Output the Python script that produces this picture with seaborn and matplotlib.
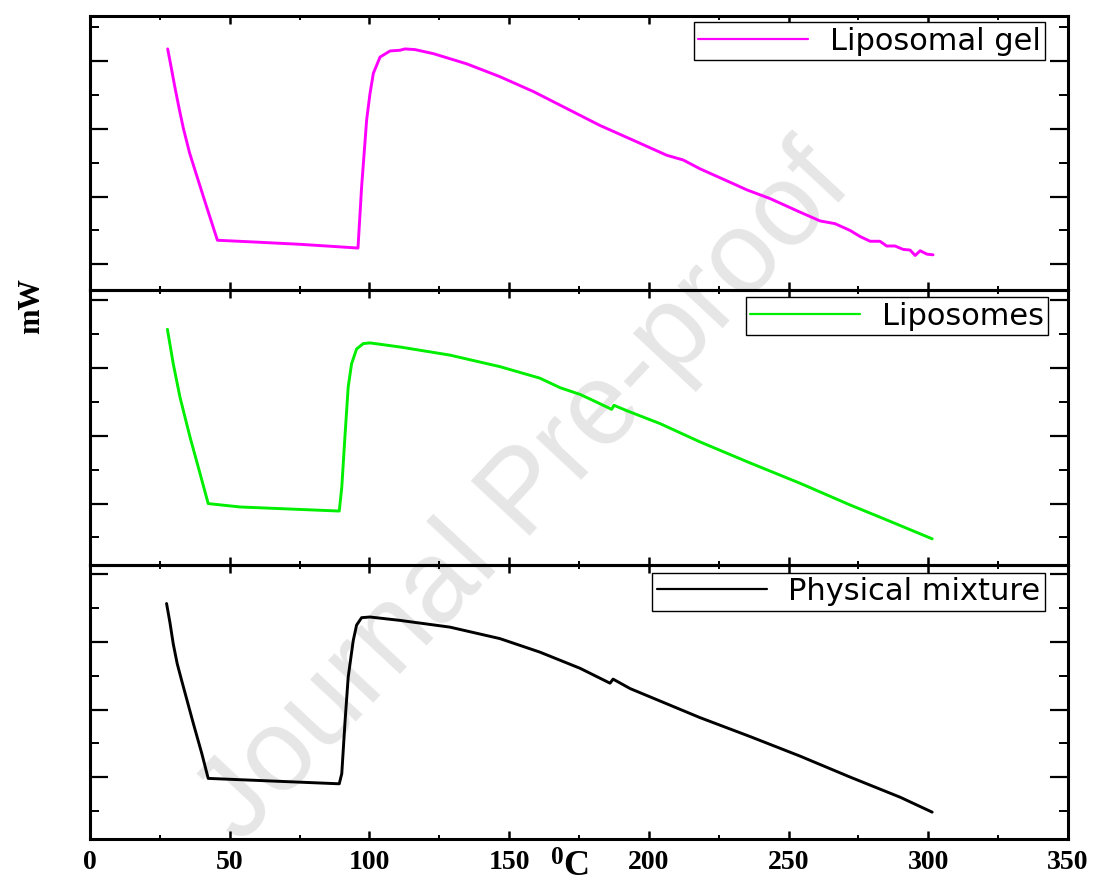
import matplotlib
matplotlib.use("Agg")
import matplotlib.pyplot as plt
from matplotlib.ticker import MultipleLocator
import seaborn as sns
import pandas as pd

# ---------------- data ----------------
temp_gel = [27.8, 29.0, 30.4, 31.9, 33.4, 35.6, 37.8, 41.8, 45.6, 60.8, 75.2, 95.9,
            97.2, 99.0, 100.2, 101.4, 103.8, 107.4, 110.9, 112.7, 116.3, 122.9, 134.8,
            146.7, 158.7, 170.6, 182.5, 194.5, 206.4, 212.3, 218.3, 230.2, 235.0, 243.4,
            254.1, 261.3, 266.6, 272.0, 275.6, 279.2, 282.7, 285.1, 288.1, 291.0, 293.5,
            295.3, 297.1, 299.5, 301.7]
mw_gel = [3.18, 2.92, 2.61, 2.30, 2.01, 1.65, 1.36, 0.84, 0.355, 0.325, 0.295, 0.24,
          1.14, 2.13, 2.52, 2.82, 3.06, 3.15, 3.16, 3.18, 3.17, 3.11, 2.96,
          2.77, 2.55, 2.30, 2.05, 1.83, 1.61, 1.54, 1.41, 1.19, 1.10, 0.97,
          0.77, 0.64, 0.60, 0.50, 0.41, 0.34, 0.34, 0.27, 0.27, 0.22, 0.21,
          0.13, 0.20, 0.15, 0.14]

temp_lip = [27.7, 28.9, 29.8, 32.2, 35.8, 39.4, 42.3, 53.7, 89.2, 90.1, 91.3, 92.4,
            93.6, 95.4, 97.8, 100.2, 110.9, 128.8, 146.7, 161.0, 168.2, 175.4, 180.1,
            186.7, 187.5, 192.1, 204.0, 218.3, 236.2, 254.1, 272.0, 282.7, 301.4]
mw_lip = [2.57, 2.28, 2.06, 1.57, 0.98, 0.44, 0.0, -0.05, -0.11, 0.24, 1.03, 1.72,
          2.06, 2.28, 2.36, 2.37, 2.31, 2.19, 2.02, 1.85, 1.71, 1.61, 1.52,
          1.39, 1.45, 1.37, 1.18, 0.91, 0.60, 0.30, -0.02, -0.20, -0.52]

temp_pm = [27.4, 28.6, 29.8, 31.2, 32.8, 37.0, 40.0, 42.3, 89.2, 90.1, 91.3, 92.4,
           94.2, 95.4, 97.2, 100.2, 110.9, 128.8, 146.7, 161.0, 175.4, 186.1, 187.2,
           193.3, 218.3, 236.2, 254.1, 272.0, 290.0, 301.4]
mw_pm = [2.57, 2.29, 1.97, 1.68, 1.43, 0.79, 0.35, -0.02, -0.10, 0.05, 0.84, 1.48,
         2.02, 2.25, 2.36, 2.37, 2.32, 2.22, 2.05, 1.85, 1.61, 1.39, 1.45,
         1.31, 0.88, 0.60, 0.31, 0.0, -0.30, -0.52]

labels = ["Liposomal gel", "Liposomes", "Physical mixture"]
colors = ["#FF00FF", "#00EE00", "#000000"]
x_ticks = [0, 50, 100, 150, 200, 250, 300, 350]
ylims = [(-0.384, 3.666), (-0.90, 3.146), (-0.916, 3.146)]
legend_anchor = [(0.9765, 0.978), (0.980, 0.975), (0.9765, 0.971)]

series = [(temp_gel, mw_gel), (temp_lip, mw_lip), (temp_pm, mw_pm)]

# ---------------- style ----------------
sns.set_style("ticks")
plt.rcParams["font.family"] = ["DejaVu Sans"]
plt.rcParams["text.color"] = "black"
plt.rcParams["xtick.color"] = "black"
plt.rcParams["ytick.color"] = "black"
plt.rcParams["axes.edgecolor"] = "black"
plt.rcParams["mathtext.fontset"] = "custom"
plt.rcParams["mathtext.rm"] = "Liberation Serif:bold"
plt.rcParams["mathtext.bf"] = "Liberation Serif:bold"
plt.rcParams["mathtext.it"] = "Liberation Serif:bold"

fig = plt.figure(figsize=(10.99, 8.86), dpi=100)
fig.patch.set_facecolor("white")
left, right = 90 / 1099, 1068 / 1099
top_px, panel_h = 16, 274.3
axes = []
for i in range(3):
    y0 = 1 - (top_px + panel_h * (i + 1)) / 886
    ax = fig.add_axes([left, y0, right - left, panel_h / 886],
                      sharex=axes[0] if axes else None)
    axes.append(ax)

for i, ax in enumerate(axes):
    t, m = series[i]
    df = pd.DataFrame({"temp": t, "mw": m})
    sns.lineplot(data=df, x="temp", y="mw", ax=ax, color=colors[i], linewidth=2.1,
                 label=labels[i], estimator=None, sort=False)
    ax.set_facecolor("none")
    ax.set_xlim(0, 350)
    ax.set_ylim(*ylims[i])
    ax.xaxis.set_major_locator(MultipleLocator(50))
    ax.xaxis.set_minor_locator(MultipleLocator(25))
    ax.yaxis.set_major_locator(MultipleLocator(1))
    ax.yaxis.set_minor_locator(MultipleLocator(0.5))
    ax.set_xlabel("")
    ax.set_ylabel("")
    for s in ax.spines.values():
        s.set_visible(True)
        s.set_linewidth(2.2)
        s.set_color("black")
    ax.tick_params(axis="both", which="both", direction="in", top=True, right=True,
                   bottom=True, left=True, labelleft=False, color="black")
    ax.tick_params(axis="y", which="major", length=13, width=1.6)
    ax.tick_params(axis="y", which="minor", length=6.5, width=1.4)
    ax.tick_params(axis="x", which="major", length=5.5, width=1.8)
    ax.tick_params(axis="x", which="minor", length=3, width=1.4)
    if i < 2:
        ax.tick_params(axis="x", which="both", labelbottom=False)
    else:
        ax.set_xticks(x_ticks)
        ax.set_xticklabels([str(v) for v in x_ticks])
        ax.tick_params(axis="x", which="major", pad=8, labelsize=20,
                       labelcolor="black")
        for lab in ax.get_xticklabels():
            lab.set_fontfamily("Liberation Serif")
            lab.set_fontweight("bold")
    leg = ax.legend(loc="upper right", bbox_to_anchor=legend_anchor[i],
                    borderaxespad=0, frameon=True, fancybox=False, framealpha=1,
                    edgecolor="black", fontsize=22, handlelength=3.6,
                    handletextpad=0.7, borderpad=0.15, labelcolor="black")
    leg.get_frame().set_linewidth(1.0)
    for ln in leg.get_lines():
        ln.set_linewidth(1.6)

# watermark behind the curves
fig.text(525 / 1099, 1 - 495 / 886, "Journal Pre-proof", rotation=47,
         rotation_mode="anchor", ha="center", va="center", fontsize=84,
         color="#e6e6e6", family="Liberation Sans", zorder=-5)

# axis labels
fig.text(32 / 1099, 1 - 306 / 886, "mW", rotation=90, ha="center", va="center",
         fontsize=22, fontweight="bold", family="Liberation Serif")
fig.text(570 / 1099, 1.5 / 886, r"$^{0}$C", ha="center", va="bottom",
         fontsize=26, fontweight="bold", family="Liberation Serif")

fig.savefig("out.png", dpi=100)
